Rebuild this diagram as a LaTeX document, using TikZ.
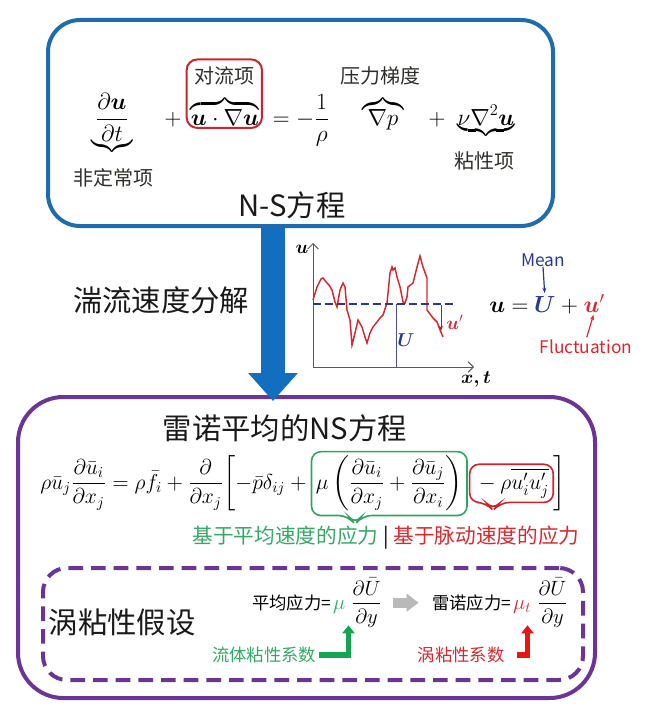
\RequirePackage{fix-cm}
\documentclass[tikz,border=0pt]{standalone}
\usepackage{amsmath}
\usepackage[no-math]{fontspec}
\setmainfont{Noto Sans CJK SC}
\usetikzlibrary{positioning,calc,fit,arrows.meta}

\definecolor{nsblue}{RGB}{30,108,175}
\definecolor{arrowblue}{RGB}{18,110,190}
\definecolor{rpurple}{RGB}{108,52,148}
\definecolor{boxred}{RGB}{205,35,45}
\definecolor{boxgreen}{RGB}{45,165,95}
\definecolor{txtgreen}{RGB}{50,170,100}
\definecolor{txtred}{RGB}{215,40,45}
\definecolor{navy}{RGB}{40,55,150}
\definecolor{labgray}{RGB}{45,48,42}
\definecolor{arrowgreen}{RGB}{20,165,80}
\definecolor{arrowred}{RGB}{235,20,20}

\begin{document}
\begin{tikzpicture}[x=0.75pt,y=-0.75pt,
    frame/.style={draw=#1, line width=3pt, inner sep=0pt},
    lab/.style={font=\fontsize{15}{18}\selectfont, text=labgray},
    bigtitle/.style={font=\fontsize{22}{26}\selectfont, text=black!90},
    eqn/.style={font=\fontsize{17.5}{20}\selectfont, inner sep=0pt},
    raneq/.style={font=\fontsize{16.2}{20}\selectfont, inner sep=0pt},
    small/.style={font=\fontsize{13}{16}\selectfont, inner sep=0pt},
    smallmath/.style={font=\fontsize{15.5}{18}\selectfont, inner sep=0pt},
    axisline/.style={draw=gray!70!black, line width=0.7pt, -{Straight Barb[length=4pt]}},
    grayarrow/.style={draw=gray!55, line width=7.5pt, -{Triangle[width=13pt,length=9pt]}},
    bentgreen/.style={draw=arrowgreen, line width=4pt, -{Triangle[width=9pt,length=6pt]}},
    bentred/.style={draw=arrowred, line width=4pt, -{Triangle[width=9pt,length=6pt]}},
  ]
  \useasboundingbox (0,0) rectangle (645,710);

  % N-S equation
  \node[frame=nsblue, rounded corners=24pt, fit={(48,20) (553,226)}] (nsbox) {};
  \node[eqn, anchor=base] (dudt) at (112,125) {$\underbrace{\dfrac{\partial\boldsymbol{u}}{\partial t}}$};
  \node[eqn, anchor=base] (plusA) at (173,125) {$+$};
  \node[eqn, anchor=base] (conv) at (225,125) {$\overbrace{\boldsymbol{u}\cdot\nabla\boldsymbol{u}}$};
  \node[eqn, anchor=base] (rhs) at (301,125) {$=-\dfrac{1}{\rho}$};
  \node[eqn, anchor=base] (gradp) at (383,125) {$\overbrace{\nabla p}$};
  \node[eqn, anchor=base] (plusB) at (437,125) {$+$};
  \node[eqn, anchor=base] (visc) at (486,125) {$\underbrace{\nu\nabla^2\boldsymbol{u}}$};
  \node[lab] (unst) at (113,178) {非定常项};
  \node[lab] (convlab) at (224,76) {对流项};
  \node[lab] (gradlab) at (380,76) {压力梯度};
  \node[lab] (visclab) at (484,161) {粘性项};
  \node[draw=boxred, line width=1.5pt, rounded corners=8pt, inner sep=2pt, fit=(conv)(convlab)] (convbox) {};
  \node[bigtitle] (nstitle) at (292,205) {N-S方程};

  % decomposition
  \node[bigtitle] (decomp) at (161,300) {湍流速度分解};
  \draw[axisline] (313,367) -- (313,243);
  \draw[axisline] (313,367) -- (474,367);
  \node[font=\fontsize{14}{16}\selectfont] (uaxis) at (302,249) {$\boldsymbol{u}$};
  \node[font=\fontsize{14}{16}\selectfont] (xtaxis) at (476,379) {$\boldsymbol{x,t}$};
  \draw[draw=navy!60!gray, line width=0.7pt] (396,304) -- (396,367);
  \draw[draw=txtred, line width=1.1pt] plot coordinates {(313,300) (317,287) (321,279) (323,278) (327,283) (329,285)
    (332,290) (335,302) (337,307) (340,290) (343,283) (345,287) (347,310) (350,320) (352,345) (355,333)
    (358,320) (362,327) (365,337) (367,343) (370,333) (373,327) (377,322) (380,318) (383,315) (387,303)
    (390,273) (392,267) (393,270) (395,268) (397,277) (400,287) (403,302) (405,303) (407,297) (408,287)
    (413,283) (417,267) (420,256) (423,267) (427,278) (427,310) (433,318) (437,322) (440,330) (443,337)};
  \draw[draw=navy, line width=1.6pt, dash pattern=on 6pt off 3pt] (313,304) -- (454,304);
  \node[font=\fontsize{14}{16}\selectfont, text=navy] (Ulab) at (406,340) {$\boldsymbol{U}$};
  \draw[draw=txtred!80!black, line width=0.7pt, -{Stealth[length=4pt]}] (441,305) -- (441,331);
  \node[font=\fontsize{14}{16}\selectfont, text=txtred] (uplab) at (455,322) {$\boldsymbol{u}'$};

  \node[eqn, anchor=base west] (ueqL) at (489,312) {$\boldsymbol{u}=\:$};
  \node[eqn, anchor=base west, text=navy] (ueqU) at (ueqL.base east) {$\boldsymbol{U}$};
  \node[eqn, anchor=base west] (ueqP) at (ueqU.base east) {$\:+\:$};
  \node[eqn, anchor=base west, text=txtred] (ueqF) at (ueqP.base east) {$\boldsymbol{u}'$};
  \node[small, text=navy] (mean) at (543,260) {Mean};
  \node[small, text=txtred] (fluc) at (586,347) {Fluctuation};
  \draw[draw=navy, line width=0.9pt, -{Stealth[length=4pt]}, shorten >=2pt] (mean.south) -- (ueqU.north);
  \draw[draw=txtred, line width=0.9pt, -{Stealth[length=4pt]}, shorten >=2pt, shorten <=2pt] (fluc.north) -- (ueqF.south);

  % RANS
  \node[frame=rpurple, rounded corners=34pt, fit={(18,397) (595,698)}] (rbox) {};
  \coordinate (ax) at (273,300);
  \draw[draw=arrowblue, line width=18pt, -{Triangle[width=36pt,length=21pt]}, shorten >=-4.5pt] (nsbox.south -| ax) -- (rbox.north -| ax);
  \node[bigtitle] (rtitle) at (285,428) {雷诺平均的NS方程};

  \node[raneq, anchor=base west] (eqA) at (40,489) {$\displaystyle\rho\bar{u}_j\frac{\partial\bar{u}_i}{\partial x_j}=\rho\bar{f}_i+\frac{\partial}{\partial x_j}\biggl[-\bar{p}\delta_{ij}+{}$};
  \node[raneq, anchor=base west, inner sep=3pt] (eqG) at (eqA.base east) {$\displaystyle\mu\left(\frac{\partial\bar{u}_i}{\partial x_j}+\frac{\partial\bar{u}_j}{\partial x_i}\right)$};
  \node[raneq, anchor=base west, inner sep=3pt] (eqR) at ([xshift=2pt]eqG.base east) {$\displaystyle{}-\rho\overline{u_i'u_j'}$};
  \node[raneq, anchor=base west] (eqE) at (eqR.base east) {$\displaystyle\biggr]$};
  \draw[draw=boxgreen, line width=1.2pt, rounded corners=7pt] (eqG.south west) -- (eqG.north west) -- (eqG.north east) -- (eqG.south east)
    -- ($(eqG.south west)!0.28!(eqG.south east)+(7,0)$) -- ($(eqG.south west)!0.28!(eqG.south east)+(0,9)$)
    -- ($(eqG.south west)!0.28!(eqG.south east)+(-7,0)$) -- cycle;
  \draw[draw=boxred, line width=1.2pt, rounded corners=7pt] (eqR.south west) -- (eqR.north west) -- (eqR.north east) -- (eqR.south east)
    -- ($(eqR.south west)!0.28!(eqR.south east)+(7,0)$) -- ($(eqR.south west)!0.28!(eqR.south east)+(0,8)$)
    -- ($(eqR.south west)!0.28!(eqR.south east)+(-7,0)$) -- cycle;
  \node[font=\fontsize{15.5}{18}\selectfont] (stress) at (386,538) {\textcolor{txtgreen}{基于平均速度的应力} | \textcolor{txtred}{基于脉动速度的应力}};

  % eddy viscosity
  \node[frame=rpurple, dash pattern=on 11pt off 6pt, rounded corners=18pt, fit={(43,568) (583,680)}] (ebox) {};
  \node[bigtitle] (eddy) at (122,622) {涡粘性假设};
  \node[small, anchor=base west] (fm1) at (252,609) {平均应力=};
  \node[smallmath, anchor=base west, text=txtgreen] (mu1) at ([xshift=1pt]fm1.base east) {$\mu$};
  \node[smallmath, anchor=base west] (fr1) at ([xshift=4pt]mu1.base east) {$\dfrac{\partial\bar{U}}{\partial y}$};
  \node[small, anchor=base west] (fm2) at (432,609) {雷诺应力=};
  \node[smallmath, anchor=base west, text=txtred] (mu2) at ([xshift=1pt]fm2.base east) {$\mu_t$};
  \node[smallmath, anchor=base west] (fr2) at ([xshift=4pt]mu2.base east) {$\dfrac{\partial\bar{U}}{\partial y}$};
  \draw[grayarrow] ([xshift=8pt]fr1.east) -- ([xshift=-10pt]fr1.east -| fm2.west);
  \node[small, text=txtgreen] (vis1) at (264,655) {流体粘性系数};
  \node[small, text=txtred] (vis2) at (461,655) {涡粘性系数};
  \draw[bentgreen] ([xshift=2pt]vis1.east) -| ([xshift=7pt,yshift=-9pt]mu1.south);
  \draw[bentred] ([xshift=9pt]vis2.east) -| ([xshift=4pt,yshift=-9pt]mu2.south);
\end{tikzpicture}
\end{document}
